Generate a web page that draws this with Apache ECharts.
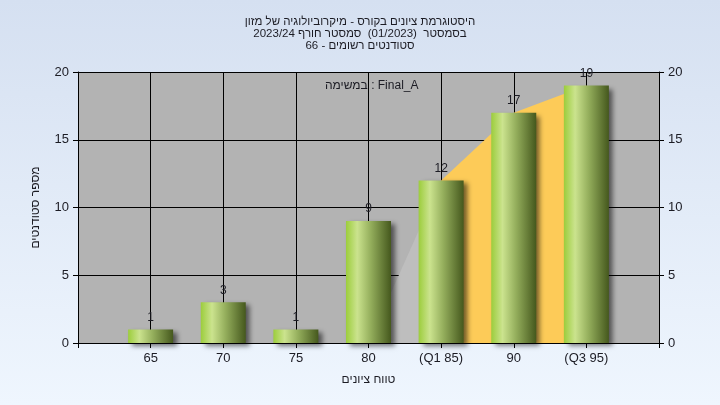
<!DOCTYPE html>
<html>
<head>
<meta charset="utf-8">
<script src="https://cdn.jsdelivr.net/npm/echarts@6/dist/echarts.min.js"></script>
<style>
html,body{margin:0;padding:0;}
#chart{width:720px;height:405px;}
</style>
</head>
<body>
<div id="chart"></div>
<script>
var titleLines = [
  'היסטוגרמת ציונים בקורס - מיקרוביולוגיה של מזון',
  'בסמסטר  (01/2023)  סמסטר חורף 2023/24',
  'סטודנטים רשומים - 66'
];
var categories = ['', '65', '70', '75', '80', '(Q1 85)', '90', '(Q3 95)', ''];
var counts = [null, 1, 3, 1, 9, 12, 17, 19, null];
var lowerArea = [null, null, null, null, 0, 12, null, null, null];
var quartileArea = [null, null, null, null, null, 12, 17, 19, null];
var yTicks = [0, 5, 10, 15, 20];
var xName = 'טווח ציונים';
var yName = 'מספר סטודנטים';
var note = 'במשימה : Final_A';

var FONT = '"Liberation Sans", Arial, sans-serif';
var TXT = '#1c1c24';

var chart = echarts.init(document.getElementById('chart'), null, {renderer: 'canvas'});
var yAxisBase = {
  type: 'value', min: yTicks[0], max: yTicks[yTicks.length - 1], interval: yTicks[1] - yTicks[0],
  axisLine: {show: true, lineStyle: {color: '#000', width: 1}},
  axisTick: {show: true, length: 5, lineStyle: {color: '#000'}},
  axisLabel: {color: TXT, fontSize: 13, fontFamily: FONT, margin: 9}
};
var option = {
  backgroundColor: {
    type: 'linear', x: 0, y: 0, x2: 0, y2: 1,
    colorStops: [{offset: 0, color: '#D5E0F1'}, {offset: 1, color: '#EFF6FE'}]
  },
  animation: false,
  title: {
    text: titleLines.join('\n'),
    left: 'center', top: 11,
    textStyle: {fontSize: 11.5, fontWeight: 'normal', color: TXT, fontFamily: FONT, lineHeight: 12}
  },
  grid: {left: 78, right: 61, top: 72, bottom: 62, show: true, backgroundColor: '#B3B3B3', borderWidth: 0},
  xAxis: {
    type: 'category', data: categories, boundaryGap: false,
    name: xName, nameLocation: 'middle', nameGap: 31,
    nameTextStyle: {color: TXT, fontSize: 12, fontFamily: FONT},
    axisLine: {show: true, lineStyle: {color: '#000', width: 1}},
    axisTick: {show: true, length: 5, alignWithLabel: true, lineStyle: {color: '#000'}},
    axisLabel: {color: TXT, fontSize: 13, fontFamily: FONT, margin: 9, interval: 0},
    splitLine: {show: true, lineStyle: {color: '#000', width: 1}}
  },
  yAxis: [
    Object.assign({}, yAxisBase, {
      position: 'left',
      name: yName, nameLocation: 'middle', nameGap: 36, nameRotate: 90,
      nameTextStyle: {color: TXT, fontSize: 12, fontFamily: FONT},
      splitLine: {show: true, lineStyle: {color: '#000', width: 1}}
    }),
    Object.assign({}, yAxisBase, {
      position: 'right',
      splitLine: {show: false}
    })
  ],
  graphic: [{
    type: 'text', left: 325, top: 80,
    style: {text: note, fill: TXT, fontSize: 12, fontFamily: FONT}
  }],
  series: [
    {
      type: 'line', data: lowerArea, z: 1, symbol: 'none', silent: true,
      lineStyle: {width: 0}, areaStyle: {color: '#BEBEBE', opacity: 1}
    },
    {
      type: 'line', data: quartileArea, z: 1, symbol: 'none', silent: true,
      lineStyle: {width: 0}, areaStyle: {color: '#FDCB58', opacity: 1}
    },
    {
      type: 'bar', data: counts, barWidth: 45, z: 3,
      itemStyle: {
        color: {
          type: 'linear', x: 0, y: 0, x2: 1, y2: 0,
          colorStops: [
            {offset: 0, color: '#9CCD3C'},
            {offset: 0.25, color: '#CBE38E'},
            {offset: 0.55, color: '#94AE5C'},
            {offset: 1, color: '#45581D'}
          ]
        },
        shadowColor: 'rgba(0,0,0,0.55)', shadowBlur: 5, shadowOffsetX: 4, shadowOffsetY: 3
      },
      label: {show: true, position: 'top', distance: 6, color: TXT, fontSize: 12, fontFamily: FONT}
    }
  ]
};
chart.setOption(option);
</script>
</body>
</html>
